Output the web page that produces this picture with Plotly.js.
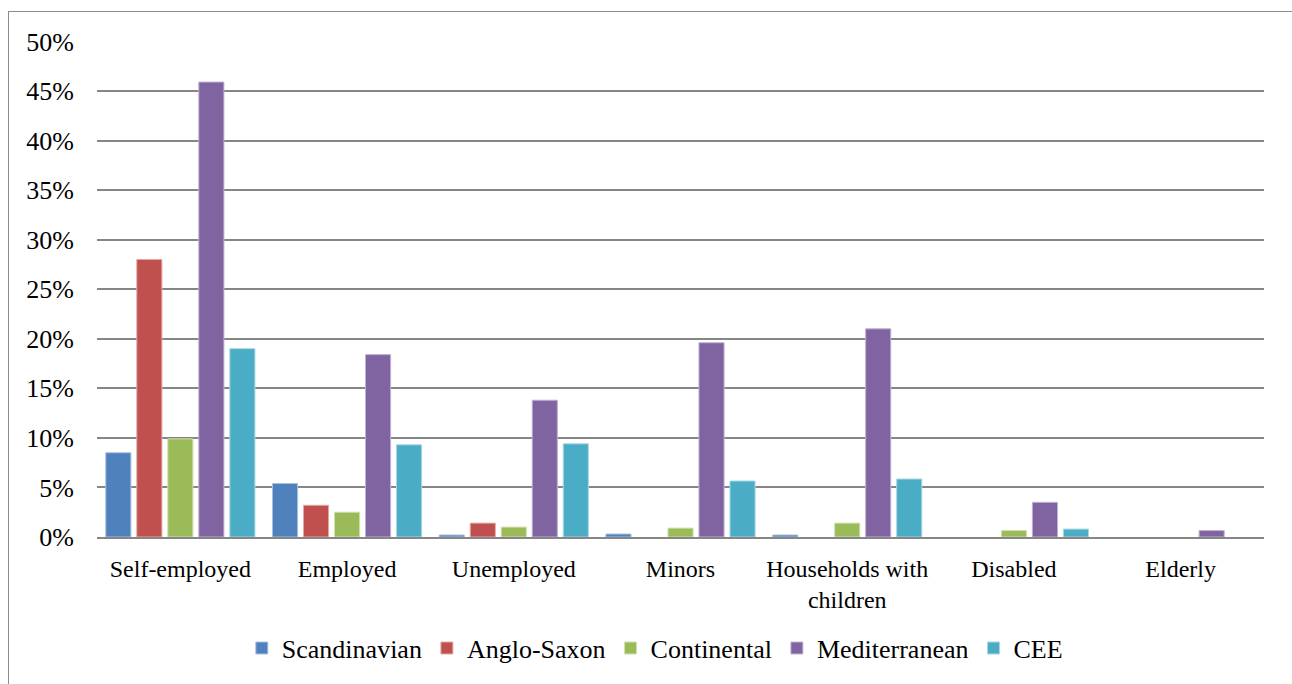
<!DOCTYPE html>
<html>
<head>
<meta charset="utf-8">
<script src="https://cdn.plot.ly/plotly-3.0.1.min.js"></script>
<style>
  html, body { margin: 0; padding: 0; background: #fff; }
  #wrap { position: relative; width: 1292px; height: 684px; overflow: hidden; }
  #chart { position: absolute; left: 0; top: 0; width: 1292px; height: 684px; }
  #frame { position: absolute; left: 8px; top: 11px; width: 1300px; height: 700px;
           border: 1.5px solid #8c8c8c; pointer-events: none; box-sizing: border-box; }
</style>
</head>
<body>
<div id="wrap">
  <div id="chart"></div>
  <div id="frame"></div>
</div>
<script>
const categories = ["Self-employed", "Employed", "Unemployed", "Minors", "Households with<br>children", "Disabled", "Elderly"];
const scandinavian  = [0.085, 0.054, 0.002, 0.003, 0.002, 0.000, 0.000];
const angloSaxon    = [0.280, 0.032, 0.014, 0.000, 0.000, 0.000, 0.000];
const continental   = [0.099, 0.025, 0.010, 0.009, 0.014, 0.0065, 0.000];
const mediterranean = [0.459, 0.184, 0.138, 0.196, 0.210, 0.035, 0.0065];
const cee           = [0.190, 0.093, 0.094, 0.0565, 0.0585, 0.008, 0.000];
const yTickVals = [0, 0.05, 0.10, 0.15, 0.20, 0.25, 0.30, 0.35, 0.40, 0.45, 0.50];
const yTickText = ["0%", "5%", "10%", "15%", "20%", "25%", "30%", "35%", "40%", "45%", "50%"];

const series = [
  {name: "Scandinavian", y: scandinavian, color: "#4F81BD", line: "#a9c0de"},
  {name: "Anglo-Saxon", y: angloSaxon, color: "#C0504D", line: "#e2aaa8"},
  {name: "Continental", y: continental, color: "#9BBB59", line: "#d0e0ae"},
  {name: "Mediterranean", y: mediterranean, color: "#8064A2", line: "#c0b2d2"},
  {name: "CEE", y: cee, color: "#4BACC6", line: "#a8d7e4"}
];

const traces = series.map(s => ({
  type: "bar",
  name: s.name,
  x: categories,
  y: s.y,
  marker: {color: s.color, line: {color: s.line, width: s.y.map(v => v > 0 ? 1 : 0)}},
  hoverinfo: "x+y+name"
}));

const FAMILY = "Liberation Serif";
function mkFont(size) { return {family: FAMILY, size: size, color: "#000000"}; }

const layout = {
  width: 1292, height: 684,
  margin: {l: 97, r: 28, t: 41, b: 139},
  paper_bgcolor: "rgba(0,0,0,0)",
  plot_bgcolor: "#ffffff",
  font: mkFont(24),
  barmode: "group",
  bargap: 0.07,
  bargroupgap: 0.19,
  showlegend: true,
  legend: {
    orientation: "h", x: 0.478, xanchor: "center", y: -0.224, yanchor: "middle",
    font: mkFont(26), itemwidth: 20, traceorder: "normal"
  },
  xaxis: {
    type: "category",
    tickfont: mkFont(24),
    showgrid: false,
    showline: true, linecolor: "#868686", linewidth: 2,
    ticks: "", ticklabelstandoff: 9,
    zeroline: false
  },
  yaxis: {
    range: [0, 0.5004],
    tickvals: yTickVals, ticktext: yTickText,
    tickfont: mkFont(26),
    showgrid: true, gridcolor: "#868686", gridwidth: 1.5,
    zeroline: false, showline: false,
    ticks: "", ticklabelstandoff: 22
  }
};

Plotly.newPlot("chart", traces, layout, {displayModeBar: false});
</script>
</body>
</html>
